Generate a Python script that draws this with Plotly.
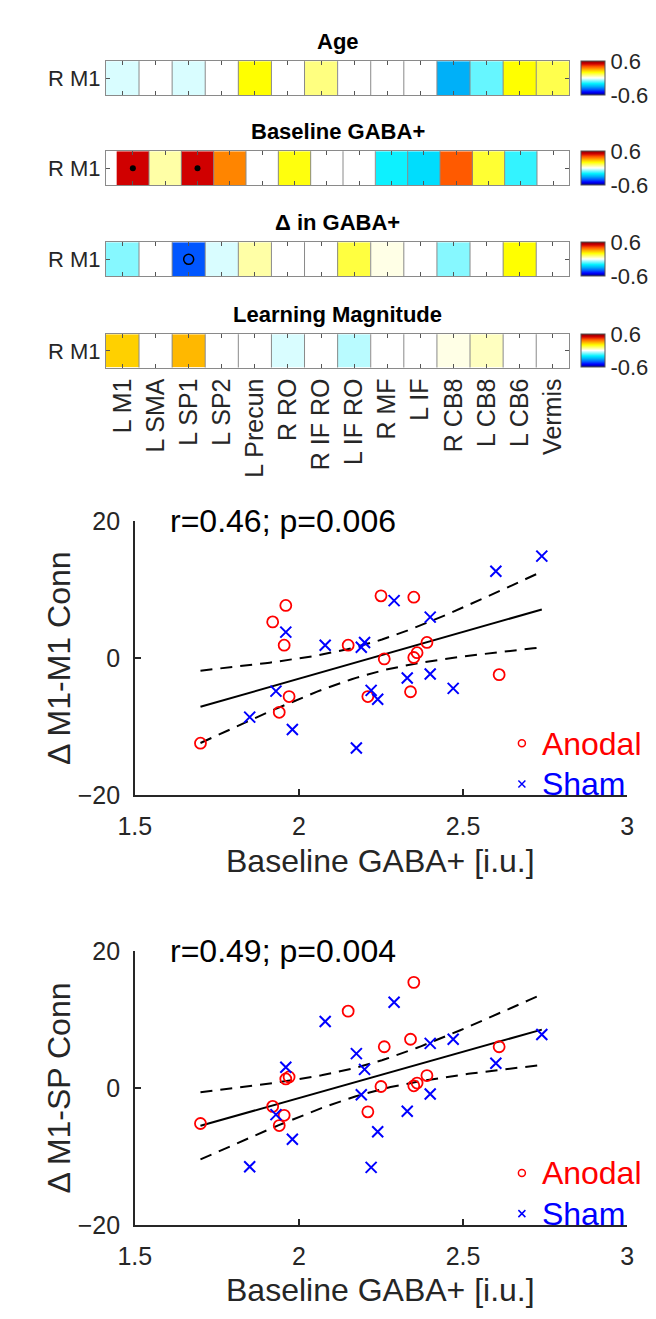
import numpy as np
import plotly.graph_objects as go

W, H = 656, 1319
FONT = "Liberation Sans"
AX = "#262626"

# ---------------- data ----------------
categories = ["L M1", "L SMA", "L SP1", "L SP2", "L Precun", "R RO", "R IF RO",
              "L IF RO", "R MF", "L IF", "R CB8", "L CB8", "L CB6", "Vermis"]
row_label = ["R M1"]
age_r = [-0.03, 0.0, -0.03, 0.0, 0.20, 0.0, 0.10, 0.0, 0.0, 0.0, -0.30, -0.12, 0.20, 0.14]
baseline_r = [0.50, 0.07, 0.50, 0.35, 0.0, 0.19, 0.0, 0.0, -0.19, -0.23, 0.40, 0.16, -0.16, 0.0]
delta_r = [-0.095, 0.0, -0.41, -0.03, 0.07, 0.0, 0.0, 0.15, 0.02, 0.0, -0.095, 0.0, 0.20, 0.0]
learning_r = [0.26, 0.0, 0.29, 0.0, 0.0, -0.03, 0.0, -0.055, 0.0, 0.0, 0.02, 0.05, 0.0, 0.0]
panel_titles = ["Age", "Baseline GABA+", "Δ in GABA+", "Learning Magnitude"]
sig_filled = {"Baseline GABA+": ["L M1", "L SP1"]}
sig_open = {"Δ in GABA+": ["L SP1"]}

anodal_gaba = [2.61, 2.39, 2.36, 2.35, 2.35, 2.34, 2.26, 2.25, 2.21, 2.15, 1.97, 1.96, 1.955, 1.94, 1.92, 1.70]
anodal_m1m1 = [-2.4, 2.3, 0.8, 8.9, 0.1, -4.9, -0.1, 9.1, -5.6, 1.9, -5.6, 7.7, 1.9, -7.9, 5.3, -12.4]
anodal_m1sp = [6.0, 1.8, 0.7, 15.4, 0.3, 7.1, 6.0, 0.2, -3.5, 11.2, 1.6, 1.3, -4.0, -5.5, -2.7, -5.2]

sham_gaba = [2.74, 2.60, 2.47, 2.40, 2.40, 2.33, 2.29, 2.24, 2.22, 2.20, 2.19, 2.175, 2.08, 1.98, 1.96, 1.93, 1.85]
sham_m1m1 = [14.9, 12.7, -4.4, 6.0, -2.3, -2.9, 8.4, -6.0, -4.7, 2.3, 1.6, -13.1, 1.9, -10.4, 3.8, -4.8, -8.6]
sham_m1sp = [7.8, 3.6, 7.1, 6.5, -0.9, -3.4, 12.5, -6.4, -11.6, 2.7, -1.0, 5.0, 9.7, -7.5, 3.0, -3.9, -11.5]

stats_text = ["r=0.46; p=0.006", "r=0.49; p=0.004"]
y_titles = ["Δ M1-M1 Conn", "Δ M1-SP Conn"]
x_title = "Baseline GABA+ [i.u.]"
x_ticks = [1.5, 2, 2.5, 3]
y_ticks = [-20, 0, 20]

colorscale = [
    [0.0, "#000080"], [1/12, "#0000FF"], [2/12, "#0060FF"], [3/12, "#00B0F8"],
    [4/12, "#00F0FF"], [5/12, "#80F8FF"], [6/12, "#FFFFFF"], [7/12, "#FFFF80"],
    [8/12, "#FFFF00"], [9/12, "#FFB000"], [10/12, "#FF5A00"], [11/12, "#D00000"],
    [1.0, "#800000"],
]

# ---------------- layout helpers ----------------
def px(p):
    return p / W

def py(p):
    return 1 - p / H

def ax_names(k):
    s = "" if k == 1 else str(k)
    return f"x{s}", f"y{s}", f"xaxis{s}", f"yaxis{s}"

fig = go.Figure()
layout = dict(width=W, height=H, margin=dict(l=0, r=0, t=0, b=0),
              paper_bgcolor="white", plot_bgcolor="white", showlegend=True,
              font=dict(family=FONT, color=AX))
annotations = []
shapes = []

HX0, HX1 = 84, 565
heat_rows = [(40, 75), (132, 167), (225, 260), (319, 353)]
heat_vals = [age_r, baseline_r, delta_r, learning_r]

for i, (title, (t, b), vals) in enumerate(zip(panel_titles, heat_rows, heat_vals)):
    k = i + 1
    xa, ya, xk, yk = ax_names(k)
    fig.add_trace(go.Heatmap(
        z=[vals], x=categories, y=row_label, xaxis=xa, yaxis=ya,
        zmin=-0.6, zmax=0.6, colorscale=colorscale, showlegend=False,
        colorbar=dict(x=px(577), xanchor="left", thicknessmode="pixels", thickness=24,
                      lenmode="fraction", len=(b - t) / H, y=py((t + b) / 2), yanchor="middle",
                      tickvals=[-0.6, 0.6], ticktext=["-0.6", "0.6"], ticks="",
                      outlinewidth=1, outlinecolor="#555", xpad=0, ypad=0,
                      tickfont=dict(size=22, color=AX, family=FONT)),
    ))
    layout[xk] = dict(domain=[px(HX0), px(HX1)], anchor=ya, showline=True,
                      linecolor="#8a8a8a", linewidth=1, mirror="ticks",
                      ticks="inside", ticklen=4, tickcolor="#555",
                      showgrid=False, zeroline=False, fixedrange=True,
                      showticklabels=(k == 4), tickangle=-90,
                      tickfont=dict(size=25, color=AX, family=FONT))
    layout[yk] = dict(domain=[py(b), py(t)], anchor=xa, showline=True,
                      linecolor="#8a8a8a", linewidth=1, mirror="ticks",
                      ticks="inside", ticklen=4, tickcolor="#555",
                      showgrid=False, zeroline=False, fixedrange=True,
                      tickfont=dict(size=22, color=AX, family=FONT))
    for j in range(len(categories) - 1):
        shapes.append(dict(type="line", xref=xa, yref=f"{ya} domain", x0=j + 0.5, x1=j + 0.5,
                           y0=0, y1=1, line=dict(color="#8a8a8a", width=1), layer="above"))
    annotations.append(dict(text=f"<b>{title}</b>", xref="paper", yref="paper",
                            x=px((HX0 + HX1) / 2), y=py(t - 5), xanchor="center", yanchor="bottom",
                            showarrow=False, font=dict(size=22, color="black", family=FONT)))
    if title in sig_filled:
        fig.add_trace(go.Scatter(x=sig_filled[title], y=row_label * len(sig_filled[title]),
                                 xaxis=xa, yaxis=ya, mode="markers", showlegend=False,
                                 marker=dict(symbol="circle", size=6, color="black")))
    if title in sig_open:
        fig.add_trace(go.Scatter(x=sig_open[title], y=row_label * len(sig_open[title]),
                                 xaxis=xa, yaxis=ya, mode="markers", showlegend=False,
                                 marker=dict(symbol="circle-open", size=10, color="black",
                                             line=dict(width=1.5))))

# ---------------- scatter panels ----------------
SX0, SX1 = 114, 625
scatter_rows = [(510, 790), (949, 1229)]
panels = [(anodal_m1m1, sham_m1m1), (anodal_m1sp, sham_m1sp)]
legend_tops = [711, 1150]

for i, ((t, b), (ay, sy)) in enumerate(zip(scatter_rows, panels)):
    k = i + 5
    xa, ya, xk, yk = ax_names(k)
    lg = "legend" if i == 0 else "legend2"
    # regression with 95% confidence band, computed from all points
    xs = np.array(anodal_gaba + sham_gaba)
    ys = np.array(ay + sy)
    n = len(xs)
    slope, icpt = np.polyfit(xs, ys, 1)
    resid = ys - (slope * xs + icpt)
    s = np.sqrt(np.sum(resid ** 2) / (n - 2))
    xm = xs.mean()
    sxx = np.sum((xs - xm) ** 2)
    xf = np.linspace(xs.min(), xs.max(), 80)
    yf = slope * xf + icpt
    half = 2.04 * s * np.sqrt(1 / n + (xf - xm) ** 2 / sxx)
    for yy, dash in [(yf + half, "12px,8px"), (yf - half, "12px,8px"), (yf, "solid")]:
        fig.add_trace(go.Scatter(x=xf, y=yy, xaxis=xa, yaxis=ya, mode="lines", showlegend=False,
                                 line=dict(color="black", width=2, dash=dash), hoverinfo="skip"))
    fig.add_trace(go.Scatter(x=anodal_gaba, y=ay, xaxis=xa, yaxis=ya, mode="markers",
                             showlegend=False,
                             marker=dict(symbol="circle-open", size=11, color="#FF0000",
                                         line=dict(width=1.8, color="#FF0000"))))
    fig.add_trace(go.Scatter(x=sham_gaba, y=sy, xaxis=xa, yaxis=ya, mode="markers",
                             showlegend=False,
                             marker=dict(symbol="x-thin-open", size=11, color="#0000FF",
                                         line=dict(width=2, color="#0000FF"))))
    # legend entries
    fig.add_trace(go.Scatter(x=[None], y=[None], xaxis=xa, yaxis=ya, mode="markers", legend=lg,
                             name="<span style='color:#FF0000;font-size:32px'>Anodal</span>",
                             marker=dict(symbol="circle-open", size=7, color="#FF0000",
                                         line=dict(width=1.5, color="#FF0000"))))
    fig.add_trace(go.Scatter(x=[None], y=[None], xaxis=xa, yaxis=ya, mode="markers", legend=lg,
                             name="<span style='color:#0000FF;font-size:32px'>Sham</span>",
                             marker=dict(symbol="x-thin-open", size=7, color="#0000FF",
                                         line=dict(width=1.5, color="#0000FF"))))
    layout[lg] = dict(x=px(495), xanchor="left", y=py(legend_tops[i]), yanchor="top",
                      bgcolor="rgba(0,0,0,0)", borderwidth=0, itemwidth=30,
                      tracegroupgap=0, font=dict(size=29, family=FONT))
    layout[xk] = dict(domain=[px(SX0), px(SX1)], anchor=ya, range=[1.5, 3],
                      tickvals=x_ticks, ticktext=[f"{v:g}" for v in x_ticks],
                      showline=True, linecolor=AX, linewidth=1.5, mirror=False,
                      ticks="inside", ticklen=6, tickwidth=1.5, tickcolor=AX,
                      showgrid=False, zeroline=False, ticklabelstandoff=8,
                      tickfont=dict(size=25, color=AX, family=FONT))
    layout[yk] = dict(domain=[py(b), py(t)], anchor=xa, range=[-20, 20],
                      tickvals=y_ticks, showline=True, linecolor=AX, linewidth=1.5,
                      mirror=False, ticks="inside", ticklen=6, tickwidth=1.5,
                      tickcolor=AX, showgrid=False, zeroline=False, ticklabelstandoff=8,
                      tickfont=dict(size=25, color=AX, family=FONT))
    annotations.append(dict(text=stats_text[i], xref=xa, yref=ya, x=1.6, y=20,
                            xanchor="left", yanchor="middle", showarrow=False,
                            font=dict(size=32, color="black", family=FONT)))
    annotations.append(dict(text=y_titles[i], xref="paper", yref="paper", x=px(35),
                            y=py((t + b) / 2), xanchor="center", yanchor="middle",
                            textangle=-90, showarrow=False,
                            font=dict(size=32, color=AX, family=FONT)))
    annotations.append(dict(text=x_title, xref="paper", yref="paper", x=px((SX0 + SX1) / 2),
                            y=py(b + 67), xanchor="center", yanchor="middle", showarrow=False,
                            font=dict(size=32, color=AX, family=FONT)))

layout["annotations"] = annotations
layout["shapes"] = shapes
fig.update_layout(**layout)
fig.write_html("out.html")
